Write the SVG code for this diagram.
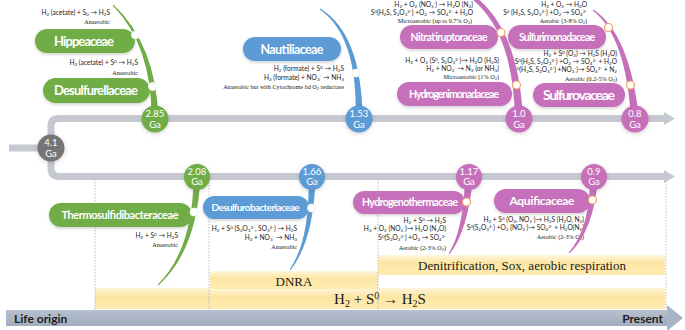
<svg xmlns="http://www.w3.org/2000/svg" width="685" height="330" viewBox="0 0 685 330">
<defs>
<style>
.pg{fill:#70ad47}.pb{fill:#5b9bd5}.pp{fill:#c66fbb}
.lbl{font-family:Lato,"Liberation Sans",sans-serif;font-weight:700;fill:#fff;text-anchor:middle}
.eq{font-family:Lato,"Liberation Sans","DejaVu Sans",sans-serif;font-size:6.6px;fill:#1a1a1a;text-anchor:end}
.cond{font-family:"Liberation Serif",serif;font-size:6.2px;fill:#1a1a1a;text-anchor:end}
.sb{baseline-shift:-1.2px;font-size:4.6px}
.sp{baseline-shift:2.2px;font-size:4.6px}
.ga{font-family:Lato,"Liberation Sans",sans-serif;font-size:9.5px;fill:#fff;text-anchor:middle}
.tl{fill:none;stroke:#c6cad0;stroke-width:7}
.dot{fill:#fff;stroke:#eef5e8;stroke-width:1}
.dotp{fill:#fff;stroke:#f4a261;stroke-width:1.2}
.vd{stroke:#8fb2e0;stroke-width:0.8;stroke-dasharray:1.5 1.5}
.band{fill:url(#yl)}
.bt{font-family:"Liberation Serif",serif;fill:#1a1a1a;text-anchor:middle}
.ax{font-family:Lato,"Liberation Sans",sans-serif;font-size:12px;font-weight:700;fill:#1f1f1f}
</style>
<linearGradient id="yl" x1="0" y1="0" x2="0" y2="1">
<stop offset="0" stop-color="#fff6dd"/>
<stop offset="0.4" stop-color="#fde6a3"/>
<stop offset="1" stop-color="#feebb2"/>
</linearGradient>
<linearGradient id="ax" x1="0" y1="0" x2="0" y2="1">
<stop offset="0" stop-color="#b6c0cf"/>
<stop offset="1" stop-color="#a1acbd"/>
</linearGradient>
<filter id="sh" x="-20%" y="-40%" width="140%" height="180%">
<feDropShadow dx="0" dy="1.5" stdDeviation="1.5" flood-color="#000" flood-opacity="0.18"/>
</filter>
<filter id="gl" x="-50%" y="-50%" width="200%" height="200%">
<feDropShadow dx="0" dy="1" stdDeviation="2" flood-color="#555" flood-opacity="0.3"/>
</filter>
</defs>
<rect width="685" height="330" fill="#fff"/>

<!-- process bands -->
<g id="bands">
<rect class="band" x="95" y="288" width="570" height="21"/>
<rect class="band" x="210" y="271" width="168" height="18"/>
<rect class="band" x="378" y="255" width="287" height="20"/>
<text class="bt" x="294" y="286" font-size="13">DNRA</text>
<text class="bt" x="522" y="270" font-size="13" textLength="208">Denitrification, Sox, aerobic respiration</text>
<text class="bt" x="380" y="304" font-size="15">H<tspan baseline-shift="-3" font-size="10">2</tspan> + S<tspan baseline-shift="5" font-size="10">0</tspan> → H<tspan baseline-shift="-3" font-size="10">2</tspan>S</text>
</g>

<g id="guides">
<line class="vd" x1="95" y1="179" x2="95" y2="310"/>
<line class="vd" x1="209" y1="179" x2="209" y2="310"/>
<line class="vd" x1="378" y1="179" x2="378" y2="310"/>
<line class="vd" x1="666" y1="181" x2="666" y2="310"/>
</g>

<!-- axis -->
<g id="axis">
<rect x="6" y="310" width="662" height="16" fill="url(#ax)"/>
<polygon points="667,305 683,318 667,331" fill="#a9b4c5"/>
<text class="ax" x="14" y="323">Life origin</text>
<text class="ax" x="663" y="323" text-anchor="end">Present</text>
</g>

<!-- timelines -->
<g id="timelines">
<line class="tl" x1="9" y1="148" x2="42" y2="148" stroke-width="8"/>
<path class="tl" d="M51,148 V126 Q51,118.5 59,118.5 H665"/>
<polygon points="664,112 675,118.5 664,125" fill="#c6cad0"/>
<path class="tl" d="M51,148 V168 Q51,176.5 59,176.5 H665"/>
<polygon points="664,170 675,176.5 664,183" fill="#c6cad0"/>
</g>

<!-- nodes: families -->
<g id="hippeaceae">
<rect class="pg" x="35" y="29" width="100" height="24" rx="12" filter="url(#sh)"/>
<text class="lbl" x="84" y="45.5" font-size="13" textLength="60">Hippeaceae</text>
<text class="eq" x="110" y="15">H<tspan class="sb">2</tspan> (acetate) + S<tspan class="sb">0</tspan> → H<tspan class="sb">2</tspan>S</text>
<text class="cond" x="110" y="24">Anaerobic</text>
</g>
<g id="desulfurellaceae">
<rect class="pg" x="43" y="78" width="107" height="25" rx="12.5" filter="url(#sh)"/>
<text class="lbl" x="96" y="95" font-size="13" textLength="84">Desulfurellaceae</text>
<text class="eq" x="138" y="65">H<tspan class="sb">2</tspan> (acetate) + S<tspan class="sp">0</tspan> → H<tspan class="sb">2</tspan>S</text>
<text class="cond" x="138" y="75">Anaerobic</text>
</g>
<g id="nautiliaceae">
<rect class="pb" x="243" y="37" width="98" height="24" rx="12" filter="url(#sh)"/>
<text class="lbl" x="292" y="53.5" font-size="12.5" textLength="63">Nautiliaceae</text>
<text class="eq" x="344" y="71">H<tspan class="sb">2</tspan> (formate) + S<tspan class="sp">0</tspan> → H<tspan class="sb">2</tspan>S</text>
<text class="eq" x="344" y="80">H<tspan class="sb">2</tspan> (formate) + NO<tspan class="sb">3</tspan><tspan class="sp">-</tspan> → NH<tspan class="sb">3</tspan></text>
<text class="cond" x="344" y="89">Anaerobic but with Cytochrome <tspan font-style="italic">bd</tspan> O<tspan class="sb">2</tspan> reductase</text>
</g>
<g id="nitratiruptoraceae">
<rect class="pp" x="400" y="25" width="98" height="24" rx="12" filter="url(#sh)"/>
<text class="lbl" x="449" y="40.5" font-size="10.5" textLength="77">Nitratiruptoraceae</text>
<text class="eq" x="473" y="6.5">H<tspan class="sb">2</tspan> + O<tspan class="sb">2</tspan> (NO<tspan class="sb">3</tspan><tspan class="sp">-</tspan>) → H<tspan class="sb">2</tspan>O (N<tspan class="sb">2</tspan>)</text>
<text class="eq" x="473" y="14.5">S<tspan class="sp">0</tspan>(H<tspan class="sb">2</tspan>S, S<tspan class="sb">2</tspan>O<tspan class="sb">3</tspan><tspan class="sp">2-</tspan>) +O<tspan class="sb">2</tspan> → SO<tspan class="sb">4</tspan><tspan class="sp">2-</tspan> + H<tspan class="sb">2</tspan>O</text>
<text class="cond" x="472" y="22.5">Microaerobic (up to 0.7% O<tspan class="sb">2</tspan>)</text>
</g>
<g id="hydrogenimonadaceae">
<rect class="pp" x="397" y="82" width="115" height="24" rx="12" filter="url(#sh)"/>
<text class="lbl" x="454" y="97.5" font-size="10.5" textLength="90">Hydrogenimonadaceae</text>
<text class="eq" x="499" y="62.5">H<tspan class="sb">2</tspan> + O<tspan class="sb">2</tspan> (S<tspan class="sp">0</tspan>, S<tspan class="sb">2</tspan>O<tspan class="sb">3</tspan><tspan class="sp">2-</tspan>)→ H<tspan class="sb">2</tspan>O (H<tspan class="sb">2</tspan>S)</text>
<text class="eq" x="499" y="70.5">H<tspan class="sb">2</tspan> + NO<tspan class="sb">3</tspan><tspan class="sp">-</tspan> → N<tspan class="sb">2</tspan> (or NH<tspan class="sb">3</tspan>)</text>
<text class="cond" x="499" y="79">Microaerobic (1% O<tspan class="sb">2</tspan>)</text>
</g>
<g id="sulfurimonadaceae">
<rect class="pp" x="508" y="25" width="98" height="24" rx="12" filter="url(#sh)"/>
<text class="lbl" x="557" y="40.5" font-size="10.5" textLength="76">Sulfurimonadaceae</text>
<text class="eq" x="587" y="6.5">H<tspan class="sb">2</tspan> + O<tspan class="sb">2</tspan> → H<tspan class="sb">2</tspan>O</text>
<text class="eq" x="587" y="14.5">S<tspan class="sp">0</tspan> (H<tspan class="sb">2</tspan>S, S<tspan class="sb">2</tspan>O<tspan class="sb">3</tspan><tspan class="sp">2-</tspan>) +O<tspan class="sb">2</tspan> → SO<tspan class="sb">4</tspan><tspan class="sp">2-</tspan></text>
<text class="cond" x="587" y="22.5">Aerobic (3-8% O<tspan class="sb">2</tspan>)</text>
</g>
<g id="sulfurovaceae">
<rect class="pp" x="533" y="83" width="92" height="24" rx="12" filter="url(#sh)"/>
<text class="lbl" x="579" y="100" font-size="14" textLength="72">Sulfurovaceae</text>
<text class="eq" x="617" y="56">H<tspan class="sb">2</tspan> + S<tspan class="sp">0</tspan> (O<tspan class="sb">2</tspan>) → H<tspan class="sb">2</tspan>S (H<tspan class="sb">2</tspan>O)</text>
<text class="eq" x="617" y="64">S<tspan class="sp">0</tspan>(H<tspan class="sb">2</tspan>S, S<tspan class="sb">2</tspan>O<tspan class="sb">3</tspan><tspan class="sp">2-</tspan>) +O<tspan class="sb">2</tspan> → SO<tspan class="sb">4</tspan><tspan class="sp">2-</tspan> + H<tspan class="sb">2</tspan>O</text>
<text class="eq" x="617" y="72">S<tspan class="sp">0</tspan>(H<tspan class="sb">2</tspan>S, S<tspan class="sb">2</tspan>O<tspan class="sb">3</tspan><tspan class="sp">2-</tspan>) +NO<tspan class="sb">3</tspan><tspan class="sp">-</tspan>)→ SO<tspan class="sb">4</tspan><tspan class="sp">2-</tspan> + N<tspan class="sb">2</tspan></text>
<text class="cond" x="617" y="80.5">Aerobic (0.2-5% O<tspan class="sb">2</tspan>)</text>
</g>
<g id="thermosulfidibacteraceae">
<rect class="pg" x="49" y="203" width="143" height="24" rx="12" filter="url(#sh)"/>
<text class="lbl" x="120" y="219" font-size="11" textLength="117">Thermosulfidibacteraceae</text>
<text class="eq" x="178" y="238">H<tspan class="sb">2</tspan> + S<tspan class="sp">0</tspan> → H<tspan class="sb">2</tspan>S</text>
<text class="cond" x="178" y="247">Anaerobic</text>
</g>
<g id="desulfurobacteriaceae">
<rect class="pb" x="203" y="196" width="106" height="23" rx="11.5" filter="url(#sh)"/>
<text class="lbl" x="255.5" y="211" font-size="10" textLength="88">Desulfurobacteriaceae</text>
<text class="eq" x="297" y="231">H<tspan class="sb">2</tspan> + S<tspan class="sp">0</tspan> (S<tspan class="sb">2</tspan>O<tspan class="sb">3</tspan><tspan class="sp">2-</tspan>, SO<tspan class="sb">3</tspan><tspan class="sp">2-</tspan>) → H<tspan class="sb">2</tspan>S</text>
<text class="eq" x="297" y="240">H<tspan class="sb">2</tspan> + NO<tspan class="sb">3</tspan><tspan class="sp">-</tspan> → NH<tspan class="sb">3</tspan></text>
<text class="cond" x="297" y="249">Anaerobic</text>
</g>
<g id="hydrogenothermaceae">
<rect class="pp" x="353" y="191" width="112" height="23" rx="11.5" filter="url(#sh)"/>
<text class="lbl" x="410" y="206" font-size="10.5" textLength="96">Hydrogenothermaceae</text>
<text class="eq" x="446" y="222.5">H<tspan class="sb">2</tspan> + S<tspan class="sp">0</tspan> → H<tspan class="sb">2</tspan>S</text>
<text class="eq" x="446" y="231">H<tspan class="sb">2</tspan> + O<tspan class="sb">2</tspan> (NO<tspan class="sb">3</tspan><tspan class="sp">-</tspan>)→ H<tspan class="sb">2</tspan>O (N<tspan class="sb">2</tspan>O)</text>
<text class="eq" x="446" y="240">S<tspan class="sp">0</tspan>(S<tspan class="sb">2</tspan>O<tspan class="sb">3</tspan><tspan class="sp">2-</tspan>) +O<tspan class="sb">2</tspan> → SO<tspan class="sb">4</tspan><tspan class="sp">2-</tspan></text>
<text class="cond" x="446" y="249.5">Aerobic (2-3% O<tspan class="sb">2</tspan>)</text>
</g>
<g id="aquificaceae">
<rect class="pp" x="494" y="189" width="96" height="24" rx="12" filter="url(#sh)"/>
<text class="lbl" x="542" y="205" font-size="12" textLength="65">Aquificaceae</text>
<text class="eq" x="584" y="222">H<tspan class="sb">2</tspan> + S<tspan class="sp">0</tspan> (O<tspan class="sb">2</tspan>, NO<tspan class="sb">3</tspan><tspan class="sp">-</tspan>)→ H<tspan class="sb">2</tspan>S (H<tspan class="sb">2</tspan>O, N<tspan class="sb">2</tspan>)</text>
<text class="eq" x="584" y="230">S<tspan class="sp">0</tspan>(S<tspan class="sb">2</tspan>O<tspan class="sb">3</tspan><tspan class="sp">2-</tspan>) +O<tspan class="sb">2</tspan> (NO<tspan class="sb">3</tspan><tspan class="sp">-</tspan>)→ SO<tspan class="sb">4</tspan><tspan class="sp">2-</tspan> + H<tspan class="sb">2</tspan>O(N<tspan class="sb">2</tspan>)</text>
<text class="cond" x="584" y="239">Aerobic (2-3% O<tspan class="sb">2</tspan>)</text>
</g>

<!-- connectors: tapered lineage arcs -->
<g id="connectors">
<path class="pg" d="M113.3,4.6 Q155.9,44.3 158.5,119 L151.5,119 Q152.1,45.7 112.7,5.4 Z"/>
<path class="pb" d="M320.3,8.6 Q361.9,34.3 362.5,119 L355.5,119 Q358.1,35.7 319.7,9.4 Z"/>
<path class="pp" d="M471.2,-6.6 Q518.8,26.9 523,119 L515,119 Q513.2,29.1 468.8,-3.4 Z"/>
<path class="pp" d="M593.3,9.6 Q630.1,34.2 639,119 L631,119 Q625.9,35.8 592.7,10.4 Z"/>
<path class="pg" d="M200.5,177 Q196.9,250.7 158.3,285.4 L157.7,284.6 Q193.1,249.3 193.5,177 Z"/>
<path class="pb" d="M315.5,177 Q313.9,240.5 290.4,270.3 L289.6,269.7 Q310.1,239.5 308.5,177 Z"/>
<path class="pp" d="M473,177 Q468.2,230.6 449.4,254.3 L448.6,253.7 Q463.8,229.4 465,177 Z"/>
<path class="pp" d="M598,177 Q594.1,230.7 569.4,253.4 L568.6,252.6 Q589.9,229.3 590,177 Z"/>
<circle class="dot" cx="135.5" cy="35" r="4"/>
<circle class="dot" cx="152.5" cy="86.5" r="4"/>
<circle class="dot" cx="356" cy="73" r="4"/>
<circle class="dotp" cx="501" cy="32.5" r="4"/>
<circle class="dotp" cx="516.5" cy="85" r="4"/>
<circle class="dotp" cx="608.5" cy="27.5" r="4"/>
<circle class="dotp" cx="630.5" cy="85" r="4"/>
<circle class="dot" cx="194" cy="212" r="4"/>
<circle class="dot" cx="311.5" cy="208" r="4"/>
<circle class="dotp" cx="466.5" cy="202" r="4"/>
<circle class="dotp" cx="592.5" cy="200" r="4"/>
</g>

<!-- nodes: time points -->
<g id="t41">
<circle cx="51" cy="148" r="13.5" fill="#747474" filter="url(#gl)"/>
<text class="ga" x="51" y="146">4.1</text><text class="ga" x="51" y="157">Ga</text>
</g>
<g id="t285">
<circle class="pg" cx="155" cy="119" r="13.5" filter="url(#gl)"/>
<text class="ga" x="155" y="117">2.85</text><text class="ga" x="155" y="128">Ga</text>
</g>
<g id="t153">
<circle class="pb" cx="359" cy="119" r="13.5" filter="url(#gl)"/>
<text class="ga" x="359" y="117">1.53</text><text class="ga" x="359" y="128">Ga</text>
</g>
<g id="t10">
<circle class="pp" cx="519" cy="119" r="13.5" filter="url(#gl)"/>
<text class="ga" x="519" y="117">1.0</text><text class="ga" x="519" y="128">Ga</text>
</g>
<g id="t08">
<circle class="pp" cx="635" cy="119" r="13.5" filter="url(#gl)"/>
<text class="ga" x="635" y="117">0.8</text><text class="ga" x="635" y="128">Ga</text>
</g>
<g id="t208">
<circle class="pg" cx="197" cy="177" r="13" filter="url(#gl)"/>
<text class="ga" x="197" y="174.5">2.08</text><text class="ga" x="197" y="185">Ga</text>
</g>
<g id="t166">
<circle class="pb" cx="312" cy="177" r="13" filter="url(#gl)"/>
<text class="ga" x="312" y="174.5">1.66</text><text class="ga" x="312" y="185">Ga</text>
</g>
<g id="t117">
<circle class="pp" cx="469" cy="177" r="13" filter="url(#gl)"/>
<text class="ga" x="469" y="174.5">1.17</text><text class="ga" x="469" y="185">Ga</text>
</g>
<g id="t09">
<circle class="pp" cx="594" cy="177" r="13" filter="url(#gl)"/>
<text class="ga" x="594" y="174.5">0.9</text><text class="ga" x="594" y="185">Ga</text>
</g>
</svg>
